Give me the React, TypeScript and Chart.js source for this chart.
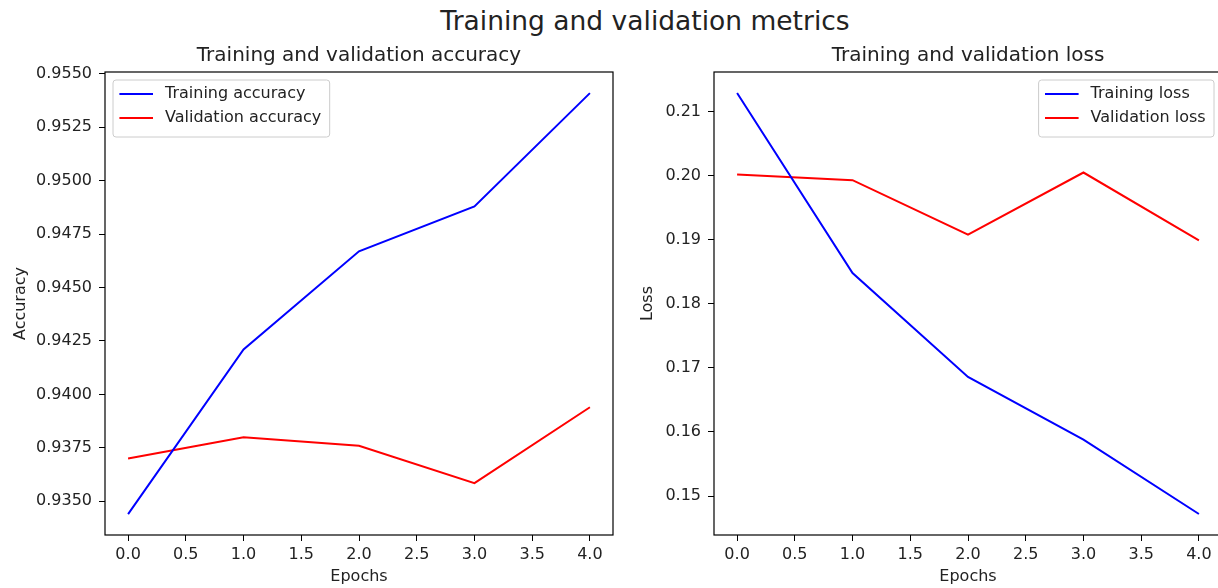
import React, { useEffect, useRef } from "react";
import { Chart, registerables } from "chart.js";

Chart.register(...registerables);

// ---------- data ----------
const epochs = [0, 1, 2, 3, 4];
const trainAcc = [0.9344, 0.9421, 0.9467, 0.9488, 0.9541];
const valAcc = [0.937, 0.938, 0.9376, 0.93585, 0.9394];
const trainLoss = [0.2129, 0.1848, 0.1686, 0.1588, 0.1472];
const valLoss = [0.2002, 0.1993, 0.1908, 0.2005, 0.1899];
const xTicks = [0, 0.5, 1, 1.5, 2, 2.5, 3, 3.5, 4];
const accTicks = [0.935, 0.9375, 0.94, 0.9425, 0.945, 0.9475, 0.95, 0.9525, 0.955];
const lossTicks = [0.15, 0.16, 0.17, 0.18, 0.19, 0.2, 0.21];

const FONT = '"DejaVu Sans", sans-serif';
const TEXT = "#222222";

const mplPlugin = {
  id: "mplDecor",
  afterDatasetsDraw(chart: any, _args: any, opts: any) {
    const { ctx, chartArea } = chart;
    const { left, top, right, bottom } = chartArea;
    ctx.save();
    // frame
    ctx.strokeStyle = "#000";
    ctx.lineWidth = 1.2;
    ctx.strokeRect(left, top, right - left, bottom - top);

    // subplot title
    ctx.fillStyle = TEXT;
    ctx.font = `20px ${FONT}`;
    ctx.textAlign = "center";
    ctx.textBaseline = "alphabetic";
    ctx.fillText(opts.title, (left + right) / 2, top - 11);

    // legend
    const fs = 16;
    ctx.font = `${fs}px ${FONT}`;
    const items = chart.data.datasets.map((d: any) => ({ label: d.label, color: d.borderColor }));
    const pad = 0.4 * fs;
    const handle = 2.1 * fs;
    const htp = 0.75 * fs;
    const textW = Math.max(...items.map((i: any) => ctx.measureText(i.label).width));
    const w = pad * 2 + handle + htp + textW + 2;
    const h = 57;
    const bx = opts.legendPos === "right" ? right - 8 - w : left + 8;
    const by = top + 8;
    const r = 3;
    ctx.beginPath();
    ctx.moveTo(bx + r, by);
    ctx.lineTo(bx + w - r, by);
    ctx.quadraticCurveTo(bx + w, by, bx + w, by + r);
    ctx.lineTo(bx + w, by + h - r);
    ctx.quadraticCurveTo(bx + w, by + h, bx + w - r, by + h);
    ctx.lineTo(bx + r, by + h);
    ctx.quadraticCurveTo(bx, by + h, bx, by + h - r);
    ctx.lineTo(bx, by + r);
    ctx.quadraticCurveTo(bx, by, bx + r, by);
    ctx.closePath();
    ctx.fillStyle = "rgba(255,255,255,0.8)";
    ctx.fill();
    ctx.strokeStyle = "#cccccc";
    ctx.lineWidth = 1;
    ctx.stroke();
    items.forEach((it: any, i: number) => {
      const cy = by + 14 + i * 24;
      ctx.strokeStyle = it.color;
      ctx.lineWidth = 2;
      ctx.beginPath();
      ctx.moveTo(bx + pad, cy);
      ctx.lineTo(bx + pad + handle, cy);
      ctx.stroke();
      ctx.fillStyle = TEXT;
      ctx.textAlign = "left";
      ctx.textBaseline = "middle";
      ctx.fillText(it.label, bx + pad + handle + htp, cy);
    });
    ctx.restore();
  },
};

function makeConfig(
  labels: string[],
  series: number[][],
  yTicks: number[],
  yMin: number,
  yMax: number,
  yTitle: string,
  digits: number,
  title: string,
  legendPos: string,
  yWidth: number,
  padRight: number,
  yTitlePad: number
): any {
  const colors = ["blue", "red"];
  return {
    type: "line",
    data: {
      datasets: series.map((s, k) => ({
        label: labels[k],
        data: epochs.map((e, i) => ({ x: e, y: s[i] })),
        borderColor: colors[k],
        backgroundColor: colors[k],
        borderWidth: 2,
        pointRadius: 0,
        tension: 0,
        fill: false,
      })),
    },
    options: {
      responsive: false,
      animation: false,
      events: [],
      layout: { padding: { top: 72, right: padRight, bottom: 0, left: 0 } },
      plugins: {
        legend: { display: false },
        title: { display: false },
        tooltip: { enabled: false },
        mplDecor: { title, legendPos },
      },
      scales: {
        x: {
          type: "linear",
          min: -0.2,
          max: 4.2,
          afterBuildTicks: (s: any) => {
            s.ticks = xTicks.map((v) => ({ value: v }));
          },
          afterFit: (s: any) => {
            s.height = 53;
          },
          ticks: {
            color: TEXT,
            font: { size: 16, family: FONT },
            padding: 4,
            maxRotation: 0,
            autoSkip: false,
            callback: (v: any) => Number(v).toFixed(1),
          },
          grid: { drawOnChartArea: false, drawTicks: true, tickLength: 6, color: "#000", lineWidth: 1 },
          border: { display: false },
          title: {
            display: true,
            text: "Epochs",
            color: TEXT,
            font: { size: 16, family: FONT },
            padding: { top: 0, bottom: 2 },
          },
        },
        y: {
          type: "linear",
          min: yMin,
          max: yMax,
          afterBuildTicks: (s: any) => {
            s.ticks = yTicks.map((v) => ({ value: v }));
          },
          afterFit: (s: any) => {
            s.width = yWidth;
          },
          ticks: {
            color: TEXT,
            font: { size: 16, family: FONT },
            padding: 7,
            autoSkip: false,
            callback: (v: any) => Number(v).toFixed(digits),
          },
          grid: { drawOnChartArea: false, drawTicks: true, tickLength: 6, color: "#000", lineWidth: 1 },
          border: { display: false },
          title: {
            display: true,
            text: yTitle,
            color: TEXT,
            font: { size: 16, family: FONT },
            padding: { top: yTitlePad, bottom: 0 },
          },
        },
      },
    },
    plugins: [mplPlugin],
  };
}

function ChartCanvas({ config, left, width }: { config: any; left: number; width: number }) {
  const ref = useRef<HTMLCanvasElement | null>(null);
  useEffect(() => {
    if (!ref.current) return;
    const chart = new Chart(ref.current, config);
    return () => chart.destroy();
  }, []);
  return (
    <canvas
      ref={ref}
      width={width}
      height={588}
      style={{ position: "absolute", left, top: 0, width, height: 588 }}
    />
  );
}

export default function App() {
  const accConfig = makeConfig(
    ["Training accuracy", "Validation accuracy"],
    [trainAcc, valAcc],
    accTicks,
    0.93342,
    0.95509,
    "Accuracy",
    4,
    "Training and validation accuracy",
    "left",
    105,
    660 - 613,
    11
  );
  const lossConfig = makeConfig(
    ["Training loss", "Validation loss"],
    [trainLoss, valLoss],
    lossTicks,
    0.14392,
    0.21619,
    "Loss",
    2,
    "Training and validation loss",
    "right",
    114,
    640 - 622,
    38
  );
  return (
    <div
      style={{
        position: "absolute",
        left: 0,
        top: 0,
        width: 1218,
        height: 588,
        overflow: "hidden",
        background: "#fff",
      }}
    >
      <div
        style={{
          position: "absolute",
          left: 0,
          top: 8,
          width: 1290,
          textAlign: "center",
          fontFamily: FONT,
          fontSize: 26.5,
          lineHeight: "26px",
          color: TEXT,
          whiteSpace: "nowrap",
        }}
      >
        Training and validation metrics
      </div>
      <ChartCanvas config={accConfig} left={0} width={660} />
      <ChartCanvas config={lossConfig} left={600} width={640} />
    </div>
  );
}
